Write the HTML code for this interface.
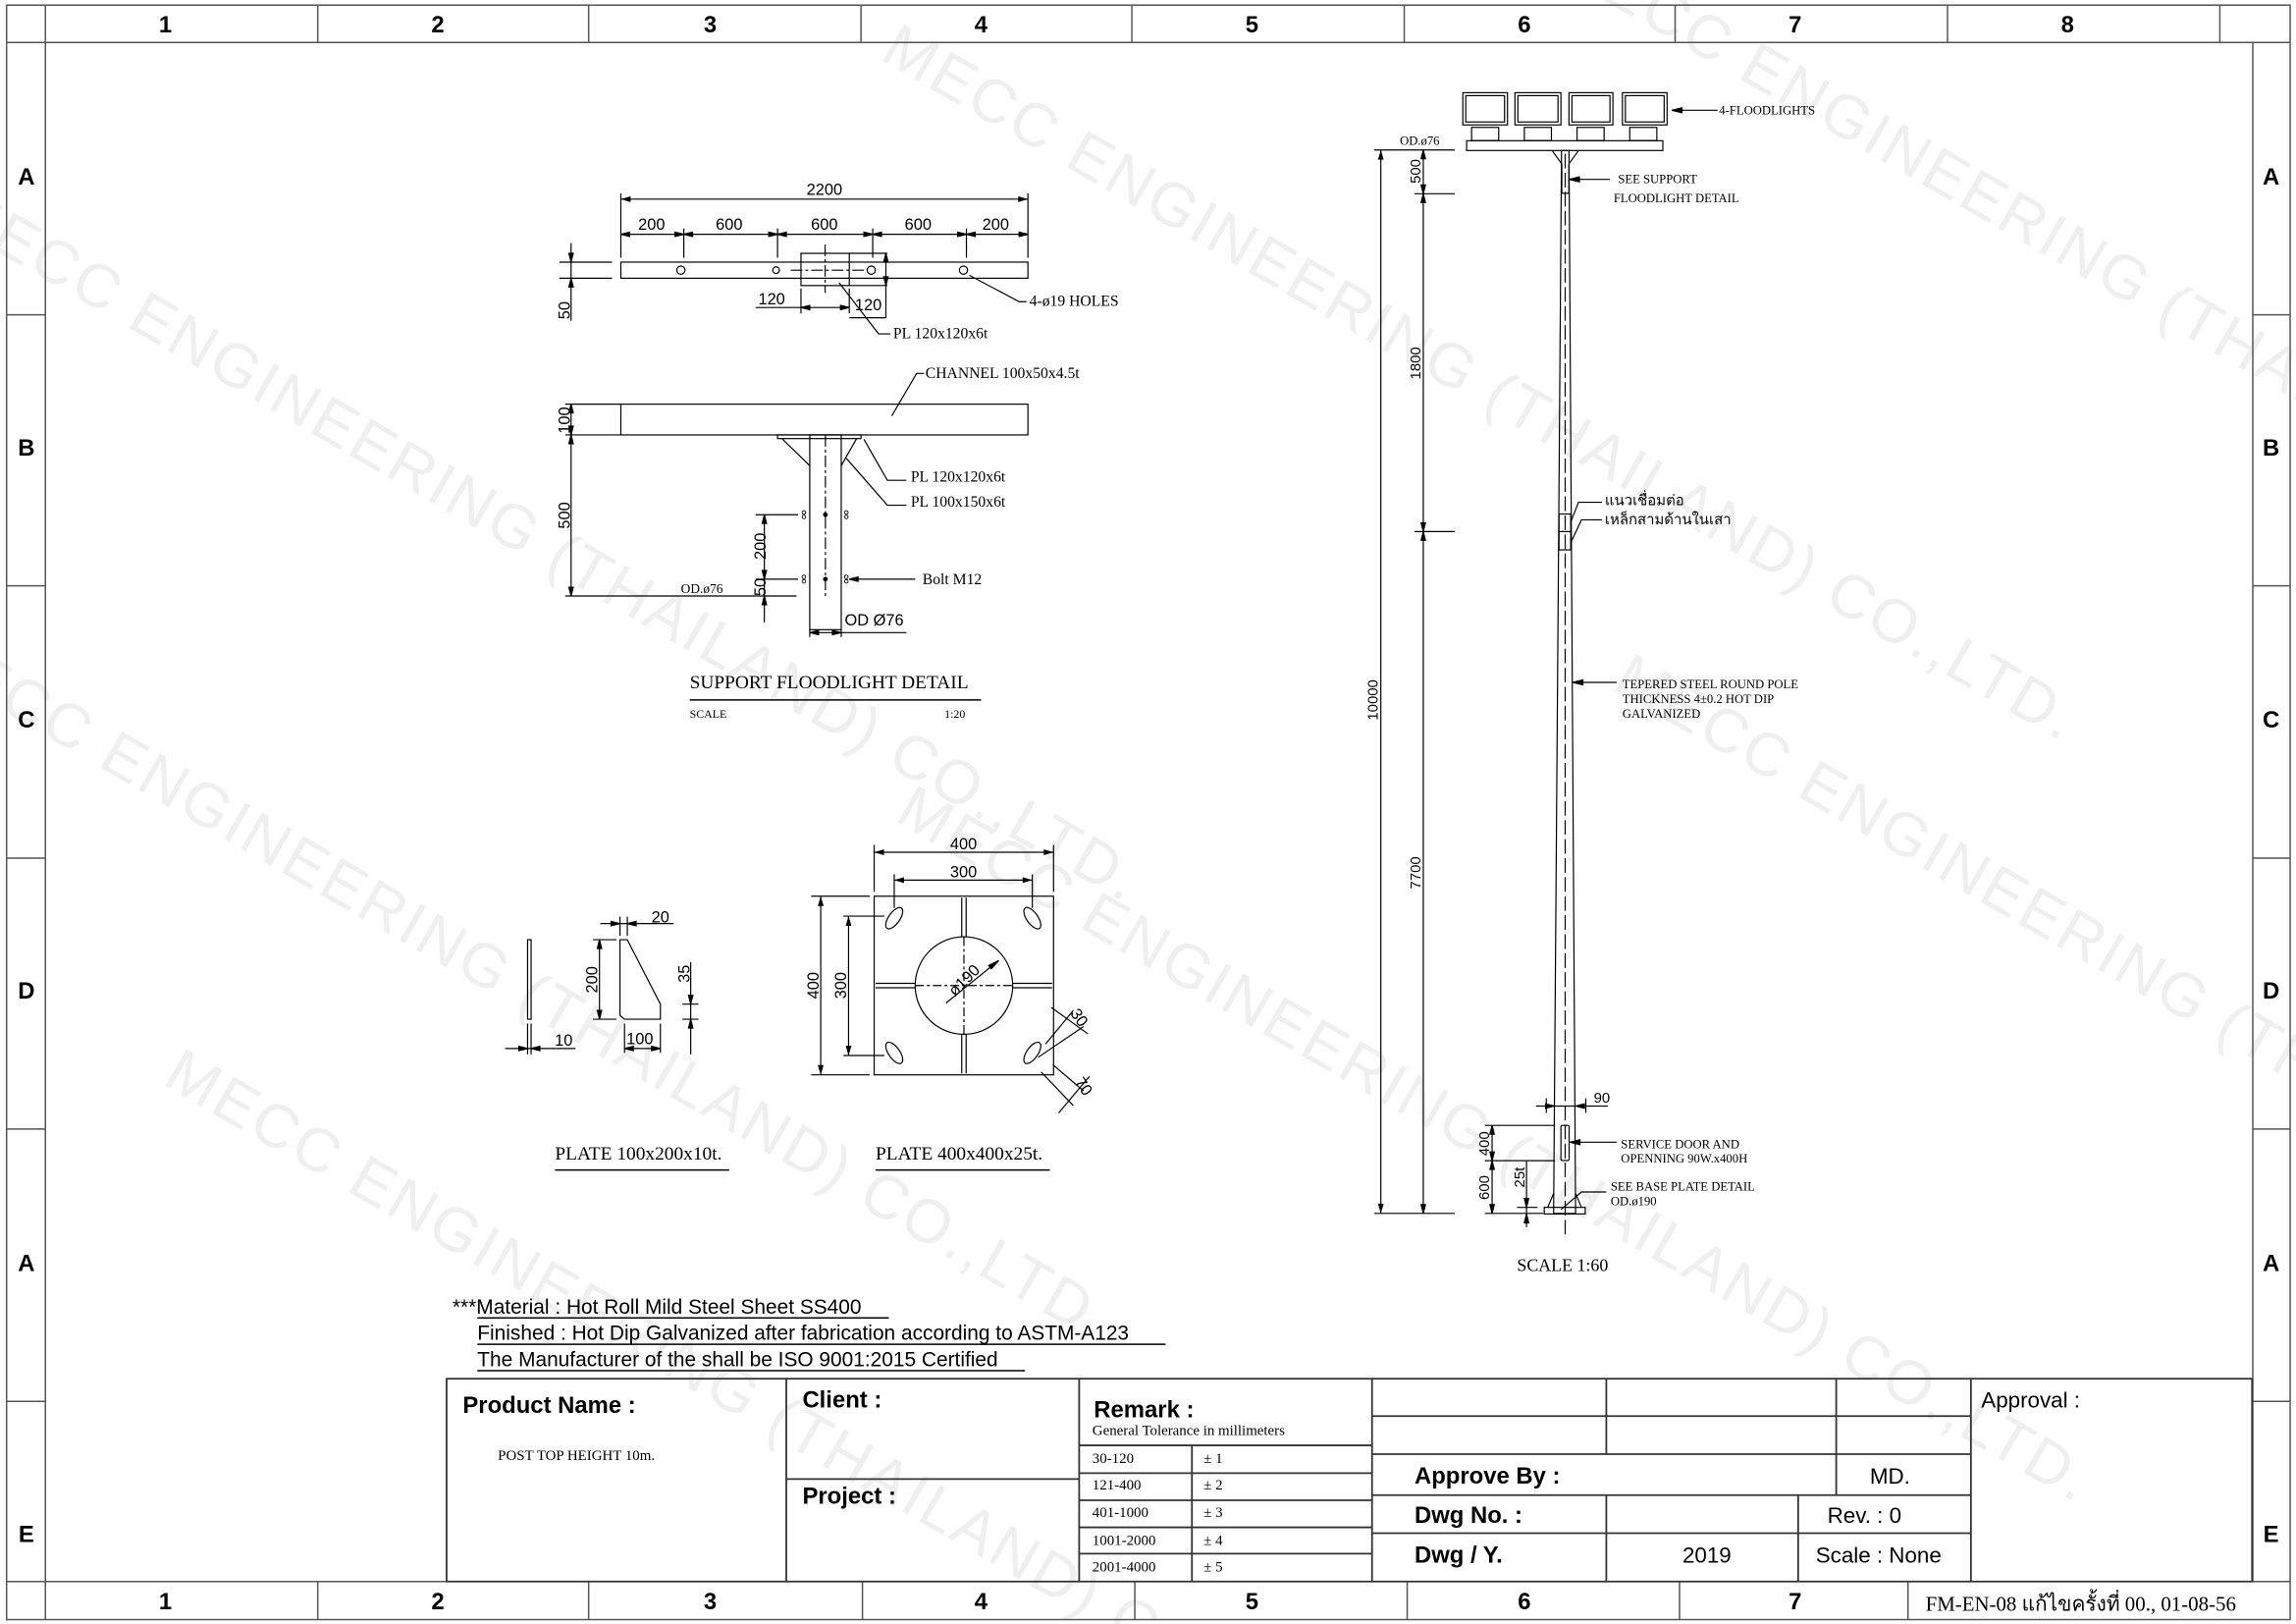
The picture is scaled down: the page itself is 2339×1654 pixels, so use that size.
<!DOCTYPE html>
<html><head><meta charset="utf-8"><style>
html,body{margin:0;padding:0;background:#fff;width:2339px;height:1654px;overflow:hidden;}
svg{display:block;}
.s{font-family:"Liberation Sans",sans-serif;}
.r{font-family:"Liberation Serif","Noto Serif CJK SC",serif;}
.b{font-family:"Liberation Sans",sans-serif;font-weight:bold;}
</style></head><body>
<svg width="2339" height="1654" viewBox="0 0 1568 1109" preserveAspectRatio="none" xmlns="http://www.w3.org/2000/svg">
<defs>
<marker id="a" viewBox="0 0 10 6" refX="10" refY="3" markerWidth="7" markerHeight="4" orient="auto-start-reverse" markerUnits="userSpaceOnUse"><path d="M0,0 L10,3 L0,6z" fill="#000"/></marker>
</defs>
<rect width="1568" height="1109" fill="#fff"/>
<!-- watermark -->
<g class="s" font-size="42" fill="#efefef" letter-spacing="2">
<text transform="translate(-40,150) rotate(30)">MECC ENGINEERING (THAILAND) CO.,LTD.</text>
<text transform="translate(-60,450) rotate(30)">MECC ENGINEERING (THAILAND) CO.,LTD.</text>
<text transform="translate(600,40) rotate(30)">MECC ENGINEERING (THAILAND) CO.,LTD.</text>
<text transform="translate(610,560) rotate(30)">MECC ENGINEERING (THAILAND) CO.,LTD.</text>
<text transform="translate(1060,-20) rotate(30)">MECC ENGINEERING (THAILAND) CO.,LTD.</text>
<text transform="translate(1100,470) rotate(30)">MECC ENGINEERING (THAILAND) CO.,LTD.</text>
<text transform="translate(110,740) rotate(30)">MECC ENGINEERING (THAILAND) CO.,LTD.</text>
</g>
<!-- frame -->
<g fill="none" stroke="#555" stroke-width="1">
<rect x="4.5" y="3.5" width="1559.5" height="1102.5"/>
<rect x="31" y="29" width="1507.5" height="1051"/>
<line x1="4.5" y1="29" x2="1564" y2="29"/>
<line x1="4.5" y1="1080" x2="1564" y2="1080"/>
<g stroke="#555">
<line x1="31" y1="3.5" x2="31" y2="1106"/>
<line x1="217" y1="3.5" x2="217" y2="29"/><line x1="402" y1="3.5" x2="402" y2="29"/><line x1="588" y1="3.5" x2="588" y2="29"/><line x1="773" y1="3.5" x2="773" y2="29"/><line x1="959" y1="3.5" x2="959" y2="29"/><line x1="1144" y1="3.5" x2="1144" y2="29"/><line x1="1330" y1="3.5" x2="1330" y2="29"/><line x1="1516" y1="3.5" x2="1516" y2="29"/>
<line x1="217" y1="1080" x2="217" y2="1106"/><line x1="402" y1="1080" x2="402" y2="1106"/><line x1="589" y1="1080" x2="589" y2="1106"/><line x1="775" y1="1080" x2="775" y2="1106"/><line x1="961" y1="1080" x2="961" y2="1106"/><line x1="1147" y1="1080" x2="1147" y2="1106"/><line x1="1303" y1="1080" x2="1303" y2="1106"/>
<line x1="4.5" y1="215" x2="31" y2="215"/><line x1="4.5" y1="400" x2="31" y2="400"/><line x1="4.5" y1="586" x2="31" y2="586"/><line x1="4.5" y1="771" x2="31" y2="771"/><line x1="4.5" y1="957" x2="31" y2="957"/>
<line x1="1538.5" y1="215" x2="1564" y2="215"/><line x1="1538.5" y1="400" x2="1564" y2="400"/><line x1="1538.5" y1="586" x2="1564" y2="586"/><line x1="1538.5" y1="771" x2="1564" y2="771"/><line x1="1538.5" y1="957" x2="1564" y2="957"/>
</g></g>
<g class="b" font-size="16" text-anchor="middle">
<text x="113" y="22">1</text><text x="299" y="22">2</text><text x="485" y="22">3</text><text x="670" y="22">4</text><text x="855" y="22">5</text><text x="1041" y="22">6</text><text x="1226" y="22">7</text><text x="1412" y="22">8</text>
<text x="113" y="1099">1</text><text x="299" y="1099">2</text><text x="485" y="1099">3</text><text x="670" y="1099">4</text><text x="855" y="1099">5</text><text x="1041" y="1099">6</text><text x="1226" y="1099">7</text>
<text x="18" y="126">A</text><text x="18" y="311">B</text><text x="18" y="497">C</text><text x="18" y="682">D</text><text x="18" y="868">A</text><text x="18" y="1053">E</text>
<text x="1551" y="126">A</text><text x="1551" y="311">B</text><text x="1551" y="497">C</text><text x="1551" y="682">D</text><text x="1551" y="868">A</text><text x="1551" y="1053">E</text>
</g>
<text x="1315" y="1100" class="r" font-size="14">FM-EN-08  แก้ไขครั้งที่ 00., 01-08-56</text>

<!-- notes -->
<g class="s" font-size="14">
<text x="309" y="897">***Material : Hot Roll Mild Steel Sheet  SS400</text>
<text x="326" y="915">Finished : Hot Dip Galvanized after fabrication according to ASTM-A123</text>
<text x="326" y="933">The Manufacturer of the shall be ISO 9001:2015 Certified</text>
</g>
<g stroke="#000" stroke-width="1"><line x1="326" y1="900" x2="607" y2="900"/><line x1="326" y1="918" x2="796" y2="918"/><line x1="326" y1="936" x2="700" y2="936"/></g>

<!-- title block -->
<g fill="none" stroke="#333" stroke-width="1.2">
<rect x="305" y="941.5" width="1233" height="138.5"/>
<line x1="537" y1="941.5" x2="537" y2="1080"/>
<line x1="737" y1="941.5" x2="737" y2="1080"/>
<line x1="937" y1="941.5" x2="937" y2="1080"/>
<line x1="1346" y1="941.5" x2="1346" y2="1080"/>
<line x1="537" y1="1010" x2="737" y2="1010"/>
<line x1="737" y1="987" x2="937" y2="987"/><line x1="737" y1="1006" x2="937" y2="1006"/><line x1="737" y1="1024.5" x2="937" y2="1024.5"/><line x1="737" y1="1043" x2="937" y2="1043"/><line x1="737" y1="1061" x2="937" y2="1061"/>
<line x1="814" y1="987" x2="814" y2="1080"/>
<line x1="937" y1="967" x2="1346" y2="967"/><line x1="937" y1="993" x2="1346" y2="993"/><line x1="937" y1="1021" x2="1346" y2="1021"/><line x1="937" y1="1047" x2="1346" y2="1047"/>
<line x1="1097" y1="941.5" x2="1097" y2="993"/><line x1="1097" y1="1021" x2="1097" y2="1080"/>
<line x1="1254" y1="941.5" x2="1254" y2="1021"/>
<line x1="1228" y1="1021" x2="1228" y2="1080"/>
</g>
<g class="b" font-size="16">
<text x="316" y="965">Product Name :</text>
<text x="548" y="961">Client :</text>
<text x="548" y="1027">Project :</text>
<text x="747" y="968">Remark :</text>
<text x="966" y="1013">Approve By :</text>
<text x="966" y="1040">Dwg No. :</text>
<text x="966" y="1067">Dwg / Y.</text>
</g>
<g class="s" font-size="15">
<text x="1277" y="1013">MD.</text>
<text x="1248" y="1040">Rev. : 0</text>
<text x="1149" y="1067">2019</text>
<text x="1240" y="1067">Scale : None</text>
<text x="1353" y="961">Approval :</text>
</g>
<g class="r" font-size="10">
<text x="340" y="997">POST TOP HEIGHT 10m.</text>
<text x="746" y="980">General Tolerance in millimeters</text>
<text x="746" y="999">30-120</text><text x="822" y="999">± 1</text>
<text x="746" y="1017">121-400</text><text x="822" y="1017">± 2</text>
<text x="746" y="1036">401-1000</text><text x="822" y="1036">± 3</text>
<text x="746" y="1055">1001-2000</text><text x="822" y="1055">± 4</text>
<text x="746" y="1073">2001-4000</text><text x="822" y="1073">± 5</text>
</g>

<!-- SUPPORT FLOODLIGHT DETAIL -->
<g fill="none" stroke="#000" stroke-width="0.8">
<rect x="424" y="179" width="278" height="11"/>
<circle cx="465" cy="184.5" r="2.8"/><circle cx="530" cy="184.5" r="2.3"/><circle cx="595" cy="184.5" r="2.8"/><circle cx="658" cy="184.5" r="2.8"/>
<rect x="547" y="173" width="33" height="22"/>
<line x1="580" y1="173" x2="606" y2="173"/><line x1="580" y1="195" x2="606" y2="195"/>
<line x1="563.5" y1="167" x2="563.5" y2="200" stroke-dasharray="8,2,2,2"/>
<line x1="540" y1="184.5" x2="590" y2="184.5" stroke-dasharray="8,2,2,2"/>
<line x1="424" y1="132" x2="424" y2="176"/><line x1="702" y1="132" x2="702" y2="176"/>
<line x1="424" y1="136" x2="702" y2="136" marker-start="url(#a)" marker-end="url(#a)"/>
<line x1="467" y1="156" x2="467" y2="176"/><line x1="531" y1="156" x2="531" y2="176"/><line x1="596" y1="156" x2="596" y2="176"/><line x1="660" y1="156" x2="660" y2="176"/>
<line x1="424" y1="160" x2="702" y2="160"/>
<path d="M424,160l6,-1.5v3z M467,160l-6,-1.5v3z M467,160l6,-1.5v3z M531,160l-6,-1.5v3z M531,160l6,-1.5v3z M596,160l-6,-1.5v3z M596,160l6,-1.5v3z M660,160l-6,-1.5v3z M660,160l6,-1.5v3z M702,160l-6,-1.5v3z" fill="#000"/>
<line x1="382" y1="179" x2="418" y2="179"/><line x1="382" y1="190" x2="418" y2="190"/>
<line x1="390" y1="166" x2="390" y2="219"/>
<path d="M390,179l-1.5,-6h3z M390,190l-1.5,6h3z" fill="#000"/>
<line x1="547" y1="197" x2="547" y2="214"/><line x1="580" y1="197" x2="580" y2="214"/>
<line x1="516" y1="210" x2="580" y2="210"/><path d="M547,210l6,-1.5v3z M580,210l-6,-1.5v3z" fill="#000"/>
<line x1="605" y1="173" x2="605" y2="217"/><line x1="580" y1="217" x2="605" y2="217"/>
<path d="M605,173l-1.5,6h3z M605,195l-1.5,-6h3z" fill="#000"/>
<polyline points="573,193 600,228 608,228"/>
<polyline points="662,188 696,206 701,206"/>
<rect x="424" y="276" width="278" height="21"/>
<line x1="386" y1="276" x2="424" y2="276"/><line x1="386" y1="297" x2="424" y2="297"/>
<line x1="390" y1="276" x2="390" y2="407"/>
<path d="M390,276l-1.5,6h3z M390,297l-1.5,-6h3z M390,297l-1.5,6h3z M390,407l-1.5,-6h3z" fill="#000"/>
<line x1="386" y1="407" x2="544" y2="407"/>
<rect x="553" y="297" width="21.5" height="133"/>
<line x1="563.7" y1="297" x2="563.7" y2="407" stroke-dasharray="8,2,2,2"/>
<rect x="531" y="297" width="57" height="2.5"/>
<line x1="534" y1="299.5" x2="553" y2="318"/><line x1="585" y1="299.5" x2="574.5" y2="318"/>
<line x1="516" y1="351.5" x2="545" y2="351.5"/><line x1="516" y1="395.5" x2="545" y2="395.5"/>
<line x1="522" y1="351.5" x2="522" y2="425"/>
<path d="M522,351.5l-1.5,6h3z M522,395.5l-1.5,-6h3z M522,407l-1.5,6h3z" fill="#000"/>
<line x1="553" y1="430" x2="553" y2="435"/><line x1="574.5" y1="430" x2="574.5" y2="435"/>
<line x1="553" y1="432" x2="619" y2="432"/><path d="M553,432l6,-1.5v3z M574.5,432l-6,-1.5v3z" fill="#000"/>
<polyline points="590,300 606,328 619,328"/>
<polyline points="578,313 606,345 619,345"/>
<polyline points="609,284 626,255 631,255"/>
<line x1="580" y1="395.5" x2="625" y2="395.5"/>
<path d="M580,395.5l6,-1.5v3z" fill="#000"/>
</g>
<g fill="#000">
<circle cx="563.7" cy="351.5" r="1.6"/><circle cx="563.7" cy="395.5" r="1.6"/>
</g>
<g fill="none" stroke="#000" stroke-width="0.6">
<circle cx="549" cy="350" r="1.2"/><circle cx="549" cy="353" r="1.2"/><circle cx="578" cy="350" r="1.2"/><circle cx="578" cy="353" r="1.2"/>
<circle cx="549" cy="394" r="1.2"/><circle cx="549" cy="397" r="1.2"/><circle cx="578" cy="394" r="1.2"/><circle cx="578" cy="397" r="1.2"/>
</g>
<g class="s" font-size="11" text-anchor="middle">
<text x="563" y="133">2200</text>
<text x="445" y="157">200</text><text x="498" y="157">600</text><text x="563" y="157">600</text><text x="627" y="157">600</text><text x="680" y="157">200</text>
<text x="527" y="208">120</text><text x="593" y="212">120</text>
<text transform="translate(389,212) rotate(-90)">50</text>
<text transform="translate(389,287) rotate(-90)">100</text>
<text transform="translate(389,352) rotate(-90)">500</text>
<text transform="translate(523,373) rotate(-90)">200</text>
<text transform="translate(523,401) rotate(-90)">50</text>
<text x="597" y="427">OD Ø76</text>
</g>
<g class="r" font-size="10.5">
<text x="610" y="231">PL 120x120x6t</text>
<text x="703" y="209">4-ø19 HOLES</text>
<text x="632" y="258">CHANNEL 100x50x4.5t</text>
<text x="622" y="329">PL 120x120x6t</text>
<text x="622" y="346">PL 100x150x6t</text>
<text x="630" y="399">Bolt M12</text>
<text x="465" y="405" font-size="9">OD.ø76</text>
</g>
<text x="471" y="470" class="r" font-size="13">SUPPORT FLOODLIGHT DETAIL</text>
<line x1="471" y1="478" x2="670" y2="478" stroke="#000" stroke-width="1"/>
<text x="471" y="490" class="r" font-size="8">SCALE</text><text x="645" y="490" class="r" font-size="8">1:20</text>

<!-- PLATE 100x200x10 -->
<g fill="none" stroke="#000" stroke-width="0.8">
<rect x="360.3" y="641.7" width="2.4" height="54.3"/>
<polygon points="423.4,641.7 428.4,641.7 451,685.7 451,696 426.5,696 423.4,693.4"/>
<line x1="360.3" y1="699" x2="360.3" y2="720"/><line x1="362.7" y1="699" x2="362.7" y2="720"/>
<line x1="345" y1="716" x2="393" y2="716"/><path d="M360.3,716l-6,-1.5v3z M362.7,716l6,-1.5v3z" fill="#000"/>
<line x1="423.4" y1="626" x2="423.4" y2="639"/><line x1="428.4" y1="626" x2="428.4" y2="639"/>
<line x1="410" y1="630.7" x2="460" y2="630.7"/><path d="M423.4,630.7l-6,-1.5v3z M428.4,630.7l6,-1.5v3z" fill="#000"/>
<line x1="405" y1="641.7" x2="421" y2="641.7"/><line x1="405" y1="696" x2="421" y2="696"/>
<line x1="409.4" y1="641.7" x2="409.4" y2="696"/><path d="M409.4,641.7l-1.5,6h3z M409.4,696l-1.5,-6h3z" fill="#000"/>
<line x1="426.5" y1="699" x2="426.5" y2="719"/><line x1="451" y1="699" x2="451" y2="719"/>
<line x1="426.5" y1="716" x2="451" y2="716"/><path d="M426.5,716l6,-1.5v3z M451,716l-6,-1.5v3z" fill="#000"/>
<line x1="466" y1="685.7" x2="477" y2="685.7"/><line x1="466" y1="696" x2="477" y2="696"/>
<line x1="471.7" y1="657" x2="471.7" y2="720"/><path d="M471.7,685.7l-1.5,-6h3z M471.7,696l-1.5,6h3z" fill="#000"/>
</g>
<g class="s" font-size="11" text-anchor="middle">
<text x="451" y="630">20</text><text x="385" y="714">10</text><text x="437" y="713">100</text>
<text transform="translate(408,669) rotate(-90)">200</text>
<text transform="translate(471,665) rotate(-90)">35</text>
</g>
<text x="379" y="792" class="r" font-size="13">PLATE 100x200x10t.</text>
<line x1="379" y1="799" x2="498" y2="799" stroke="#000" stroke-width="1"/>

<!-- PLATE 400x400x25 -->
<g fill="none" stroke="#000" stroke-width="0.8">
<rect x="597" y="612" width="122.5" height="122"/>
<circle cx="658.3" cy="673" r="33.3"/>
<line x1="656.8" y1="613" x2="656.8" y2="639.7"/><line x1="659.8" y1="613" x2="659.8" y2="639.7"/>
<line x1="656.8" y1="706.3" x2="656.8" y2="733"/><line x1="659.8" y1="706.3" x2="659.8" y2="733"/>
<line x1="598" y1="671.5" x2="625" y2="671.5"/><line x1="598" y1="674.5" x2="625" y2="674.5"/>
<line x1="691.6" y1="671.5" x2="718.5" y2="671.5"/><line x1="691.6" y1="674.5" x2="718.5" y2="674.5"/>
<line x1="658.3" y1="640" x2="658.3" y2="706" stroke-dasharray="6,2,2,2"/>
<line x1="625" y1="673" x2="691.6" y2="673" stroke-dasharray="6,2,2,2"/>
<ellipse cx="610.7" cy="627" rx="8.5" ry="3.8" transform="rotate(-55 610.7 627)"/>
<ellipse cx="705" cy="627" rx="8.5" ry="3.8" transform="rotate(55 705 627)"/>
<ellipse cx="610.7" cy="719" rx="8.5" ry="3.8" transform="rotate(55 610.7 719)"/>
<ellipse cx="705" cy="719" rx="8.5" ry="3.8" transform="rotate(-55 705 719)"/>
<line x1="597" y1="577" x2="597" y2="609"/><line x1="719.5" y1="577" x2="719.5" y2="609"/>
<line x1="597" y1="582" x2="719.5" y2="582" marker-start="url(#a)" marker-end="url(#a)"/>
<line x1="610.7" y1="597" x2="610.7" y2="620"/><line x1="705" y1="597" x2="705" y2="620"/>
<line x1="610.7" y1="601" x2="705" y2="601" marker-start="url(#a)" marker-end="url(#a)"/>
<line x1="554" y1="612" x2="594" y2="612"/><line x1="554" y1="734" x2="594" y2="734"/>
<line x1="560.5" y1="612" x2="560.5" y2="734" marker-start="url(#a)" marker-end="url(#a)"/>
<line x1="576" y1="625.6" x2="604" y2="625.6"/><line x1="576" y1="720.8" x2="604" y2="720.8"/>
<line x1="579.5" y1="625.6" x2="579.5" y2="720.8" marker-start="url(#a)" marker-end="url(#a)"/>
<line x1="646" y1="685" x2="682" y2="656"/><path d="M682,656l-5,5.5l-1.8,-2.2z" fill="#000"/>
<line x1="714" y1="713" x2="733" y2="690"/><line x1="709" y1="722" x2="740" y2="701"/>
<line x1="718" y1="688" x2="743" y2="706"/>
<line x1="711" y1="732" x2="733" y2="755"/><line x1="719" y1="727" x2="740" y2="745"/>
<line x1="723" y1="760" x2="744" y2="735"/>
</g>
<g class="s" font-size="11" text-anchor="middle">
<text x="658" y="580">400</text><text x="658" y="599">300</text>
<text transform="translate(559,673) rotate(-90)">400</text>
<text transform="translate(578,673) rotate(-90)">300</text>
<text transform="translate(661,672) rotate(-45)">ø190</text>
<text transform="translate(734,697) rotate(55)">30</text>
<text transform="translate(737,744) rotate(55)">70</text>
</g>
<text x="598" y="792" class="r" font-size="13">PLATE 400x400x25t.</text>
<line x1="598" y1="799" x2="717" y2="799" stroke="#000" stroke-width="1"/>

<!-- POLE -->
<g fill="none" stroke="#000" stroke-width="0.8">
<rect x="999" y="63.3" width="30.5" height="22"/><rect x="1001" y="65.3" width="26.5" height="18"/>
<rect x="1034.6" y="63.3" width="31.4" height="22"/><rect x="1036.6" y="65.3" width="27.4" height="18"/>
<rect x="1071.5" y="63.3" width="30" height="22"/><rect x="1073.5" y="65.3" width="26" height="18"/>
<rect x="1108" y="63.3" width="30.5" height="22"/><rect x="1110" y="65.3" width="26.5" height="18"/>
<rect x="1005" y="87" width="18.5" height="9"/><rect x="1041" y="87" width="18.5" height="9"/><rect x="1077" y="87" width="18.5" height="9"/><rect x="1113" y="87" width="18.5" height="9"/>
<rect x="1001.6" y="96.1" width="134" height="6.7"/>
<polygon points="1066.4,102.8 1071.5,102.8 1076,828.6 1061,828.6"/>
<line x1="1060" y1="102.8" x2="1066.6" y2="112"/><line x1="1078" y1="102.8" x2="1071.4" y2="112"/>
<line x1="1066.6" y1="112" x2="1066.6" y2="132"/><line x1="1071.4" y1="112" x2="1071.4" y2="132"/>
<line x1="1066.6" y1="132" x2="1071.4" y2="132"/>
<line x1="1068.9" y1="105" x2="1068.9" y2="846" stroke-dasharray="10,3"/>
<rect x="1064.7" y="351" width="8" height="24.5"/><line x1="1064.7" y1="363" x2="1072.7" y2="363"/>
<rect x="1066" y="768.5" width="5.6" height="24" rx="1"/>
<rect x="1054.6" y="824.5" width="28" height="4.5"/>
<line x1="1061" y1="815" x2="1057" y2="824.5"/><line x1="1076" y1="815" x2="1080" y2="824.5"/>
<line x1="938.5" y1="102.4" x2="993.5" y2="102.4"/>
<line x1="938.5" y1="828.6" x2="993.5" y2="828.6"/>
<line x1="966" y1="132.3" x2="993.5" y2="132.3"/>
<line x1="966" y1="363" x2="993.5" y2="363"/>
<line x1="943" y1="102.4" x2="943" y2="828.6" marker-start="url(#a)" marker-end="url(#a)"/>
<line x1="972" y1="102.4" x2="972" y2="828.6"/>
<path d="M972,102.4l-1.5,6h3z M972,132.3l-1.5,-6h3z M972,132.3l-1.5,6h3z M972,363l-1.5,-6h3z M972,363l-1.5,6h3z M972,828.6l-1.5,-6h3z" fill="#000"/>
<line x1="1056" y1="750" x2="1056" y2="760"/><line x1="1083" y1="750" x2="1083" y2="760"/>
<line x1="1049" y1="755.3" x2="1098" y2="755.3"/><path d="M1061.5,755.3l-6,-1.5v3z M1076,755.3l6,-1.5v3z" fill="#000"/>
<line x1="1014" y1="768.5" x2="1062" y2="768.5"/><line x1="1014" y1="792.6" x2="1062" y2="792.6"/><line x1="1014" y1="828.6" x2="1054" y2="828.6"/>
<line x1="1019" y1="768.5" x2="1019" y2="828.6"/>
<path d="M1019,768.5l-1.5,6h3z M1019,792.6l-1.5,-6h3z M1019,792.6l-1.5,6h3z M1019,828.6l-1.5,-6h3z" fill="#000"/>
<line x1="1042.5" y1="793" x2="1042.5" y2="838"/><line x1="1036" y1="824.5" x2="1050" y2="824.5"/>
<path d="M1042.5,824.5l-1.5,-6h3z M1042.5,829l-1.5,6h3z" fill="#000"/>
<line x1="1141.7" y1="75.3" x2="1173" y2="75.3"/><path d="M1141.7,75.3l7,-1.7v3.4z" fill="#000"/>
<line x1="1071.6" y1="122.5" x2="1099.5" y2="122.5"/><path d="M1071.6,122.5l7,-1.7v3.4z" fill="#000"/>
<polyline points="1072.5,357 1078,343 1094,343"/>
<polyline points="1072.5,371 1080,355 1094,355"/>
<line x1="1074" y1="466" x2="1104" y2="466"/><path d="M1074,466l7,-1.7v3.4z" fill="#000"/>
<line x1="1072" y1="780" x2="1104" y2="780"/><path d="M1072,780l7,-1.7v3.4z" fill="#000"/>
<polyline points="1066,826 1080,814 1097,814"/>
</g>
<g class="s" font-size="10" text-anchor="middle">
<text transform="translate(941,478) rotate(-90)">10000</text>
<text transform="translate(970,117) rotate(-90)">500</text>
<text transform="translate(970,248) rotate(-90)">1800</text>
<text transform="translate(970,596) rotate(-90)">7700</text>
<text x="1094" y="753">90</text>
<text transform="translate(1017,781) rotate(-90)">400</text>
<text transform="translate(1017,811) rotate(-90)">600</text>
<text transform="translate(1041,804) rotate(-90)">25t</text>
</g>
<g class="r" font-size="8.5">
<text x="956" y="99">OD.ø76</text>
<text x="1174" y="78">4-FLOODLIGHTS</text>
<text x="1105" y="125">SEE SUPPORT</text>
<text x="1102" y="138">FLOODLIGHT DETAIL</text>
<text x="1108" y="470">TEPERED STEEL ROUND POLE</text>
<text x="1108" y="480">THICKNESS 4±0.2 HOT DIP</text>
<text x="1108" y="490">GALVANIZED</text>
<text x="1107" y="784">SERVICE DOOR AND</text>
<text x="1107" y="794">OPENNING 90W.x400H</text>
<text x="1100" y="813">SEE BASE PLATE DETAIL</text>
<text x="1100" y="823">OD.ø190</text>
</g>
<g font-family="'Liberation Serif','Noto Sans CJK SC',sans-serif" font-size="10">
<text x="1096" y="345">แนวเชื่อมต่อ</text>
<text x="1096" y="358">เหล็กสามด้านในเสา</text>
</g>
<text x="1036" y="868" class="r" font-size="12">SCALE  1:60</text>
</svg>
</body></html>
